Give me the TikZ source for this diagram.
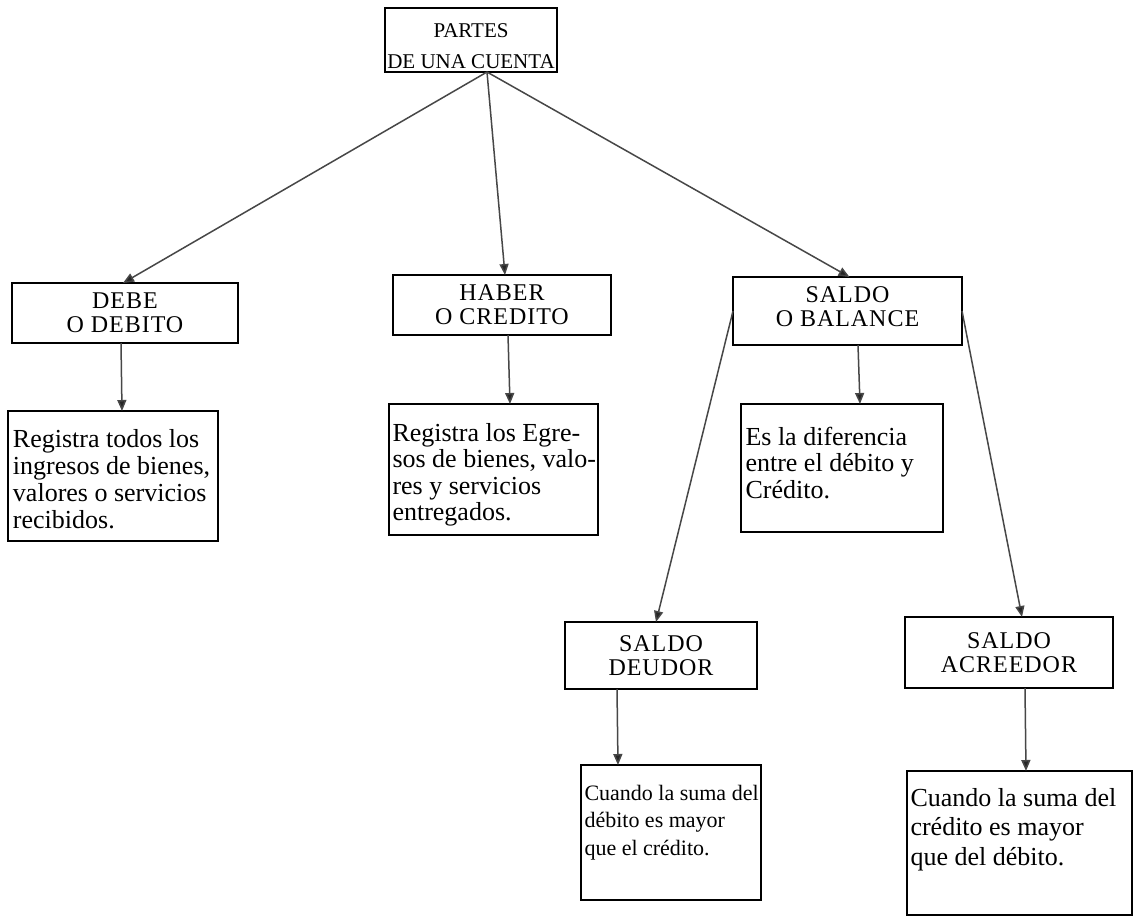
\documentclass[tikz,border=0pt]{standalone}
\usepackage{fontspec}
\setmainfont{Liberation Serif}
\newfontfamily\headfont[LetterSpace=4]{Liberation Serif}
\usetikzlibrary{arrows.meta}

\tikzset{
  boxbase/.style={draw=black, line width=1.8pt, inner sep=0pt, outer sep=0pt, anchor=north west},
  headbox/.style={boxbase, align=center, font=\headfont\fontsize{24}{24}\selectfont},
  link/.style={draw=black!72, line width=1.5pt,
    -{Triangle[length=11pt,width=9pt,fill=black!85]}},
}

% body text of a description box:
% width, height, top gap, font size, line spacing, contents
\newcommand{\bodytext}[6]{%
  \parbox[c][#2][t]{#1}{\fontsize{#4}{#5}\selectfont\raggedright
    \vspace*{#3}#6}}

\begin{document}
\begin{tikzpicture}[x=1pt, y=-1pt]
  \fill[white] (0,0) rectangle (1141,922);
  \useasboundingbox (0,0) rectangle (1141,922);

  % top node
  \node[boxbase, minimum width=172pt, minimum height=64pt] (partes) at (385,8)
    {\parbox[c][64pt][b]{172pt}{\centering\fontsize{21}{31}\selectfont
      PARTES\\DE UNA CUENTA\vspace{3pt}}};

  % second level
  \node[headbox, minimum width=226pt, minimum height=60pt] (debe) at (12,283)
    {DEBE\\O DEBITO};
  \node[headbox, minimum width=218pt, minimum height=60pt] (haber) at (393,275)
    {HABER\\O CREDITO};
  \node[headbox, minimum width=229pt, minimum height=68pt] (saldo) at (733,277)
    {SALDO\\O BALANCE\\[-16pt]\mbox{}};

  % descriptions
  \node[boxbase, minimum width=210pt, minimum height=130pt] (reg1) at (8,411)
    {\hspace{4pt}\bodytext{204pt}{130pt}{18pt}{26}{27}{Registra todos los\\ingresos de bienes,\\valores o servicios\\recibidos.}};
  \node[boxbase, minimum width=209pt, minimum height=131pt] (reg2) at (389,404)
    {\hspace{3pt}\bodytext{205pt}{131pt}{19pt}{26}{26.5}{Registra los Egre-\\sos de bienes, valo-\\res y servicios\\entregados.}};
  \node[boxbase, minimum width=202pt, minimum height=128pt] (dif) at (741,404)
    {\hspace{4pt}\bodytext{197pt}{128pt}{23pt}{26}{26.5}{Es la diferencia\\entre el débito y\\Crédito.}};

  % third level
  \node[headbox, minimum width=192pt, minimum height=67pt] (deudor) at (565,622)
    {SALDO\\DEUDOR};
  \node[headbox, minimum width=208pt, minimum height=71pt] (acreedor) at (905,617)
    {SALDO\\ACREEDOR};

  \node[boxbase, minimum width=180pt, minimum height=135pt] (cdeb) at (581,765)
    {\hspace{3pt}\bodytext{176pt}{135pt}{20pt}{22}{27.5}{Cuando la suma del\\débito es mayor\\que el crédito.}};
  \node[boxbase, minimum width=225pt, minimum height=144pt] (ccre) at (907,771)
    {\hspace{3pt}\bodytext{221pt}{144pt}{17pt}{26}{29.5}{Cuando la suma del\\crédito es mayor\\que del débito.}};

  % connectors
  \draw[link] ([xshift=16pt]partes.south) -- ([xshift=-2pt]debe.north);
  \draw[link] ([xshift=16pt]partes.south) -- ([xshift=3pt]haber.north);
  \draw[link] ([xshift=16pt]partes.south) -- ([xshift=2pt]saldo.north);

  \draw[link] ([xshift=-4pt]debe.south) -- ([xshift=9pt]reg1.north);
  \draw[link] ([xshift=6pt]haber.south) -- ([xshift=16.5pt]reg2.north);
  \draw[link] ([xshift=10.5pt]saldo.south) -- ([xshift=18pt]dif.north);

  \draw[link] (saldo.west) -- ([xshift=-5pt]deudor.north);
  \draw[link] (saldo.east) -- ([xshift=13pt]acreedor.north);

  \draw[link] ([xshift=-44pt]deudor.south) -- ([xshift=-53pt]cdeb.north);
  \draw[link] ([xshift=16pt]acreedor.south) -- ([xshift=6.5pt]ccre.north);
\end{tikzpicture}
\end{document}
